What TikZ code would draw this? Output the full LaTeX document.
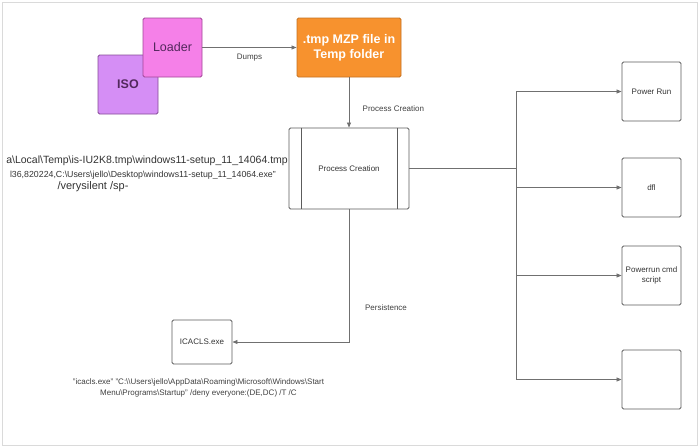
\documentclass[tikz,border=0pt]{standalone}
\usepackage{fontspec}
\setmainfont{Liberation Sans}
\usepackage{tikz}
\usetikzlibrary{arrows.meta}
\usetikzlibrary{positioning,calc}
\definecolor{isofill}{RGB}{213,142,245}
\definecolor{isoedge}{RGB}{132,74,150}
\definecolor{loadfill}{RGB}{245,128,232}
\definecolor{loadedge}{RGB}{160,70,150}
\definecolor{tmporange}{RGB}{247,146,46}
\definecolor{tmpedge}{RGB}{196,112,32}
\definecolor{darkplum}{RGB}{82,40,92}
\definecolor{linegray}{RGB}{112,112,112}
\definecolor{boxgray}{RGB}{92,92,92}
\definecolor{framegray}{RGB}{218,218,218}
\newcommand{\bs}{\textbackslash}

\begin{document}
\begin{tikzpicture}[x=1pt,y=-1pt,
    box/.style={draw=boxgray,rounded corners=1.5pt,line width=0.9pt,inner sep=0pt,
      align=center,font=\fontsize{8}{10}\selectfont,text=black!80},
    conn/.style={draw=linegray,line width=0.7pt,-{Triangle[length=5pt,width=4pt]}},
    lbl/.style={font=\fontsize{8}{10}\selectfont,text=black!75,inner sep=0pt}]

  \useasboundingbox (0,0) rectangle (700,447);
  \draw[framegray,line width=1pt] (2,2) rectangle (697,445);

  % dropped files
  \node[box,draw=isoedge,fill=isofill,minimum width=60pt,minimum height=59pt,
    font=\fontsize{12.5}{15}\selectfont\bfseries,text=darkplum] (iso) at (128,84.5) {ISO};
  \node[box,draw=loadedge,fill=loadfill,minimum width=59pt,minimum height=59pt,
    font=\fontsize{12.5}{15}\selectfont,text=darkplum] (loader) at (172.5,47.5) {Loader};
  \node[box,draw=tmpedge,fill=tmporange,minimum width=104pt,minimum height=59pt,
    font=\fontsize{12.5}{15}\selectfont\bfseries,text=white] (tmp) at (349,47.5)
    {.tmp MZP file in\\Temp folder};
  \draw[conn] (loader.east) -- (tmp.west);
  \node[lbl] (dumps) at (249.5,58) {Dumps};

  % process creation
  \node[box,minimum width=120pt,minimum height=81pt] (proc) at (349,168.5) {Process Creation};
  \draw[boxgray,line width=0.9pt] ($(proc.north west)+(13,0)$) -- ($(proc.south west)+(13,0)$);
  \draw[boxgray,line width=0.9pt] ($(proc.north east)+(-12,0)$) -- ($(proc.south east)+(-12,0)$);
  \draw[conn] (tmp.south) -- (proc.north);
  \node[lbl,anchor=west] (pclabel) at (362.5,109) {Process Creation};

  % command line of the tmp file
  \node[anchor=east,inner sep=0pt,font=\fontsize{10.5}{12}\selectfont,text=black!80] (cmdA) at (288,161)
    {a\bs Local\bs Temp\bs is-IU2K8.tmp\bs windows11-setup\_11\_14064.tmp};
  \node[anchor=east,inner sep=0pt,font=\fontsize{8.8}{11}\selectfont,text=black!80] (cmdB) at (276,175)
    {l36,820224,C:\bs Users\bs jello\bs Desktop\bs windows11-setup\_11\_14064.exe"};
  \node[inner sep=0pt,font=\fontsize{11}{12}\selectfont,text=black!80] (cmdC) at (93,186.5)
    {/verysilent /sp-};

  % children of the process
  \coordinate (split) at (516,168.5);
  \draw[linegray,line width=0.7pt] (proc.east) -- (split);
  \foreach \n/\y/\t in {pwr/91.5/Power Run, dfl/187.5/dfl, cmd/275.5/{Powerrun cmd\\script}, last/379.5/{}}{
    \node[box,minimum width=59pt,minimum height=59pt] (\n) at (651.5,\y) {\t};
    \draw[conn] (split) |- (\n.west);}

  % persistence
  \node[box,minimum width=60pt,minimum height=44pt] (icacls) at (202,342) {ICACLS.exe};
  \draw[conn] (proc.south) |- (icacls.east);
  \node[lbl] (persist) at (386,308) {Persistence};
  \node[lbl,align=center,font=\fontsize{8}{11}\selectfont] (icaclscmd) at (198.5,387.5)
    {"icacls.exe" "C:\bs\bs Users\bs jello\bs AppData\bs Roaming\bs Microsoft\bs Windows\bs Start\\
     Menu\bs Programs\bs Startup" /deny everyone:(DE,DC) /T /C};
\end{tikzpicture}
\end{document}
